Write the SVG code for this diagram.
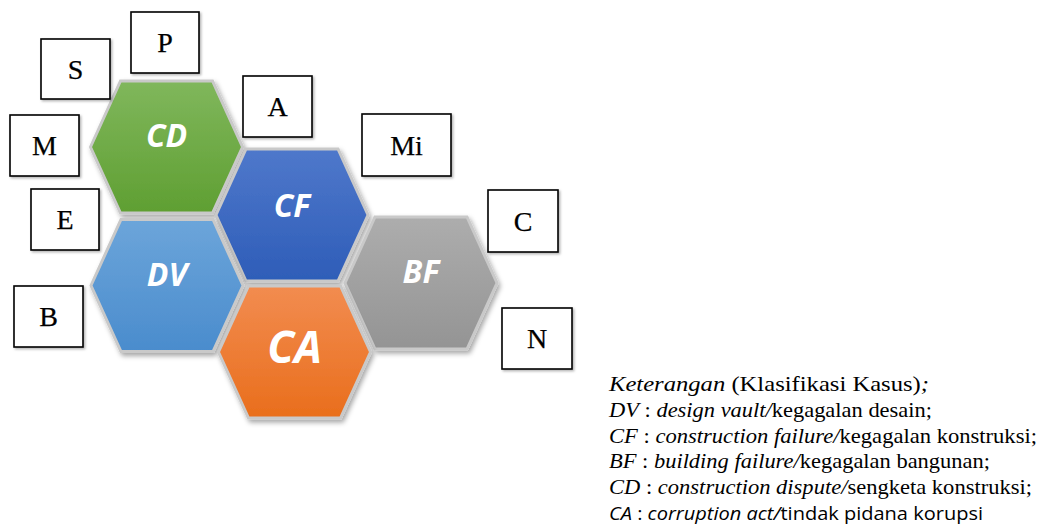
<svg xmlns="http://www.w3.org/2000/svg" width="1040" height="527" viewBox="0 0 1040 527">
<style>
.box rect{fill:#fff;stroke:#000;stroke-width:1.6;filter:url(#bsh)}
.box text{font-family:"Liberation Serif","Times New Roman",serif;font-size:28px;text-anchor:middle;fill:#000;stroke:#000;stroke-width:0.25}
.hex polygon{stroke:#c9c9c9;stroke-width:3;filter:url(#hsh)}
.hex text{font-family:"Open Sans","Liberation Sans",sans-serif;font-weight:bold;font-style:italic;fill:#fff;text-anchor:middle}
.lg{font-family:"Liberation Serif","Times New Roman",serif;font-size:21px;fill:#000}
.lgs{font-family:"Open Sans","Liberation Sans",sans-serif;font-size:18.5px;fill:#000}
</style>
<defs>
<filter id="hsh" x="-20%" y="-20%" width="140%" height="140%">
<feDropShadow dx="2" dy="3" stdDeviation="2.5" flood-color="#000" flood-opacity="0.35"/>
</filter>
<filter id="bsh" x="-20%" y="-20%" width="140%" height="140%">
<feDropShadow dx="1.5" dy="1.5" stdDeviation="1" flood-color="#000" flood-opacity="0.3"/>
</filter>
<linearGradient id="gG" x1="0" y1="0" x2="0" y2="1"><stop offset="0" stop-color="#80b75c"/><stop offset="1" stop-color="#5f9f32"/></linearGradient>
<linearGradient id="gB" x1="0" y1="0" x2="0" y2="1"><stop offset="0" stop-color="#4f78cb"/><stop offset="1" stop-color="#2e5db8"/></linearGradient>
<linearGradient id="gL" x1="0" y1="0" x2="0" y2="1"><stop offset="0" stop-color="#6ca5da"/><stop offset="1" stop-color="#4a8ccd"/></linearGradient>
<linearGradient id="gO" x1="0" y1="0" x2="0" y2="1"><stop offset="0" stop-color="#f28c50"/><stop offset="1" stop-color="#e96e1c"/></linearGradient>
<linearGradient id="gR" x1="0" y1="0" x2="0" y2="1"><stop offset="0" stop-color="#adadad"/><stop offset="1" stop-color="#949494"/></linearGradient>
</defs>
<g id="connectors"></g>
<g id="hex-CD" class="hex" transform="translate(166.5,147)">
<polygon points="-76,0 -46,-66 46,-66 76,0 46,66 -46,66" fill="url(#gG)"/>
<text x="0" y="0" font-size="32">CD</text>
</g>
<g id="hex-CF" class="hex" transform="translate(292,215)">
<polygon points="-76,0 -46,-66 46,-66 76,0 46,66 -46,66" fill="url(#gB)"/>
<text x="0" y="2" font-size="32">CF</text>
</g>
<g id="hex-DV" class="hex" transform="translate(167,285.5)">
<polygon points="-76,0 -46,-66 46,-66 76,0 46,66 -46,66" fill="url(#gL)"/>
<text x="0" y="0.5" font-size="32">DV</text>
</g>
<g id="hex-BF" class="hex" transform="translate(421,283)">
<polygon points="-76,0 -46,-66 46,-66 76,0 46,66 -46,66" fill="url(#gR)"/>
<text x="0" y="0" font-size="32">BF</text>
</g>
<g id="hex-CA" class="hex" transform="translate(294.5,352)">
<polygon points="-76,0 -46,-66 46,-66 76,0 46,66 -46,66" fill="url(#gO)"/>
<text x="0" y="11" font-size="44">CA</text>
</g>
<g id="box-P" class="box"><rect x="131" y="12" width="68" height="61"/><text x="165" y="52">P</text></g>
<g id="box-S" class="box"><rect x="41" y="39" width="69" height="60"/><text x="75.5" y="78.5">S</text></g>
<g id="box-M" class="box"><rect x="10" y="115" width="69" height="61"/><text x="44.5" y="155">M</text></g>
<g id="box-E" class="box"><rect x="31" y="189" width="68" height="61"/><text x="65" y="229">E</text></g>
<g id="box-B" class="box"><rect x="14" y="286" width="69" height="61"/><text x="48.5" y="326">B</text></g>
<g id="box-A" class="box"><rect x="243" y="76" width="69" height="61"/><text x="277.5" y="116">A</text></g>
<g id="box-Mi" class="box"><rect x="362" y="114" width="89" height="62"/><text x="406.5" y="154.5">Mi</text></g>
<g id="box-C" class="box"><rect x="488" y="190" width="70" height="62"/><text x="523" y="230.5">C</text></g>
<g id="box-N" class="box"><rect x="502" y="308" width="70" height="61"/><text x="537" y="348">N</text></g>
<g id="legend">
<text class="lg" x="609" y="391" textLength="320" lengthAdjust="spacingAndGlyphs"><tspan font-style="italic">Keterangan</tspan> (Klasifikasi Kasus)<tspan font-style="italic">;</tspan></text>
<text class="lg" x="609" y="417" textLength="323" lengthAdjust="spacingAndGlyphs"><tspan font-style="italic">DV</tspan> : <tspan font-style="italic">design vault/</tspan>kegagalan desain;</text>
<text class="lg" x="609" y="443" textLength="428" lengthAdjust="spacingAndGlyphs"><tspan font-style="italic">CF</tspan> : <tspan font-style="italic">construction failure/</tspan>kegagalan konstruksi;</text>
<text class="lg" x="609" y="468" textLength="381" lengthAdjust="spacingAndGlyphs"><tspan font-style="italic">BF</tspan> : <tspan font-style="italic">building failure/</tspan>kegagalan bangunan;</text>
<text class="lg" x="609" y="494" textLength="423" lengthAdjust="spacingAndGlyphs"><tspan font-style="italic">CD</tspan> : <tspan font-style="italic">construction dispute/</tspan>sengketa konstruksi;</text>
<text class="lgs" x="609" y="520" textLength="374" lengthAdjust="spacingAndGlyphs"><tspan font-style="italic">CA</tspan> : <tspan font-style="italic">corruption act/</tspan>tindak pidana korupsi</text>
</g>
</svg>
